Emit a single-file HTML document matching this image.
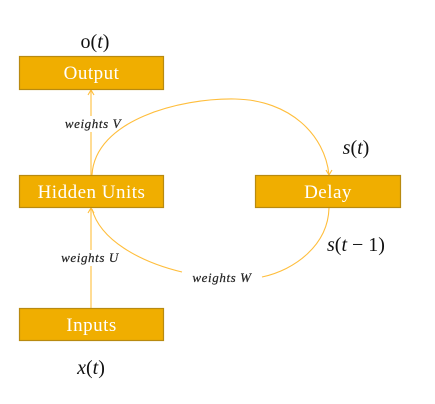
<!DOCTYPE html>
<html><head><meta charset="utf-8"><style>
html,body{margin:0;padding:0;background:#fff;}
svg{display:block;}
.box{fill:#F0AE00;stroke:#B88A10;stroke-width:1.2;}
.bt{font-family:"Liberation Serif",serif;font-size:19px;fill:#fff;text-anchor:middle;letter-spacing:0.5px;}
.math{font-family:"Liberation Serif",serif;font-size:20px;fill:#111;text-anchor:middle;}
.w{font-family:"Liberation Serif",serif;font-style:italic;font-size:13px;fill:#222;text-anchor:middle;letter-spacing:0.6px;stroke:#222;stroke-width:0.2;}
.ln{fill:none;stroke:#FFBE3C;stroke-width:1.1;}
</style></head><body>
<svg width="435" height="404" viewBox="0 0 435 404">
<g>
<line class="ln" x1="91" y1="308" x2="91" y2="266"/>
<line class="ln" x1="91" y1="250" x2="91" y2="209"/>
<path class="ln" d="M88,213 L91,208 L94,213"/>
<line class="ln" x1="91" y1="175" x2="91" y2="132"/>
<line class="ln" x1="91" y1="116" x2="91" y2="90"/>
<path class="ln" d="M88,95 L91,90 L94,95"/>
<path class="ln" d="M92,175 C95,120 180,98 235,99 C290,100 325,135 329,175"/>
<path class="ln" d="M326,170 L329,175 L332,170"/>
<path class="ln" d="M329,208 C328,245 295,270 262,277"/>
<path class="ln" d="M182,272 C140,262 100,240 92,209"/>
</g>
<g><rect class="box" x="19.5" y="56.5" width="144" height="33"/><text class="bt" x="91.5" y="79">Output</text></g>
<g><rect class="box" x="19.5" y="175.5" width="144" height="32"/><text class="bt" x="91.5" y="198">Hidden Units</text></g>
<g><rect class="box" x="255.5" y="175.5" width="145" height="32"/><text class="bt" x="328" y="198">Delay</text></g>
<g><rect class="box" x="19.5" y="308.5" width="144" height="32"/><text class="bt" x="91.5" y="331">Inputs</text></g>
<text class="math" x="95" y="48">o(<tspan font-style="italic">t</tspan>)</text>
<text class="math" x="356" y="154"><tspan font-style="italic">s</tspan>(<tspan font-style="italic">t</tspan>)</text>
<text class="math" x="356" y="251"><tspan font-style="italic">s</tspan>(<tspan font-style="italic">t</tspan> − 1)</text>
<text class="math" x="91" y="374"><tspan font-style="italic">x</tspan>(<tspan font-style="italic">t</tspan>)</text>
<text class="w" x="93" y="128">weights V</text>
<text class="w" x="90" y="262">weights U</text>
<text class="w" x="222" y="282">weights W</text>
</svg>
</body></html>
